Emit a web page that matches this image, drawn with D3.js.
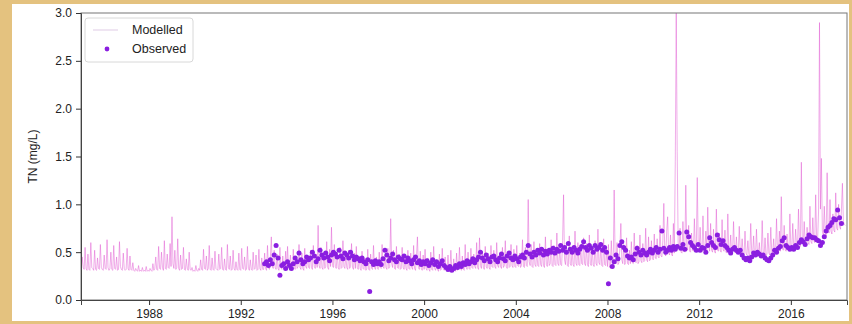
<!DOCTYPE html>
<html>
<head>
<meta charset="utf-8">
<script src="https://cdn.jsdelivr.net/npm/d3@7"></script>
<style>
  html, body { margin: 0; padding: 0; background: #e4c27f; }
  svg { display: block; }
  text { font-family: "Liberation Sans", Arial, sans-serif; }
</style>
</head>
<body>
<div id="chart"></div>
<script>
// modelled TN, 24 samples per year starting at each year
const modelledStart = 1985;
const modelled = [
  [0.33,0.32,0.45,0.34,0.32,0.55,0.33,0.31,0.48,0.32,0.31,0.60,0.34,0.33,0.31,0.52,0.32,0.31,0.44,0.33,0.32,0.58,0.34,0.32], // 1985
  [0.31,0.47,0.33,0.32,0.63,0.34,0.31,0.33,0.50,0.32,0.31,0.57,0.33,0.32,0.45,0.31,0.32,0.61,0.35,0.32,0.31,0.49,0.33,0.31],
  [0.32,0.54,0.33,0.31,0.46,0.32,0.31,0.39,0.31,0.30,0.33,0.31,0.30,0.36,0.30,0.31,0.30,0.34,0.30,0.31,0.30,0.35,0.30,0.31],
  [0.30,0.33,0.31,0.30,0.38,0.31,0.33,0.45,0.32,0.31,0.56,0.33,0.32,0.50,0.34,0.31,0.62,0.33,0.32,0.48,0.34,0.33,0.59,0.35],
  [0.87,0.38,0.33,0.52,0.32,0.34,0.64,0.33,0.31,0.47,0.32,0.33,0.55,0.32,0.31,0.43,0.33,0.31,0.50,0.32,0.31,0.34,0.30,0.31],
  [0.30,0.36,0.31,0.30,0.33,0.31,0.42,0.32,0.31,0.53,0.33,0.32,0.46,0.31,0.33,0.57,0.32,0.31,0.44,0.32,0.31,0.51,0.33,0.32], // 1990
  [0.31,0.48,0.32,0.33,0.55,0.32,0.31,0.43,0.32,0.31,0.58,0.34,0.32,0.46,0.31,0.32,0.52,0.33,0.31,0.40,0.32,0.31,0.49,0.32],
  [0.31,0.54,0.33,0.32,0.45,0.31,0.32,0.56,0.33,0.31,0.42,0.32,0.31,0.50,0.32,0.33,0.47,0.31,0.32,0.53,0.33,0.31,0.44,0.32],
  [0.32,0.49,0.33,0.31,0.57,0.34,0.32,0.45,0.66,0.35,0.33,0.52,0.34,0.32,0.48,0.33,0.31,0.55,0.34,0.32,0.46,0.33,0.32,0.51],
  [0.33,0.56,0.34,0.32,0.47,0.33,0.31,0.53,0.34,0.32,0.44,0.33,0.35,0.58,0.34,0.32,0.49,0.33,0.31,0.54,0.35,0.33,0.46,0.34],
  [0.33,0.52,0.34,0.32,0.57,0.35,0.33,0.48,0.34,0.78,0.36,0.33,0.55,0.34,0.32,0.50,0.33,0.35,0.61,0.34,0.32,0.53,0.35,0.76], // 1995
  [0.36,0.34,0.58,0.35,0.33,0.50,0.34,0.32,0.55,0.33,0.34,0.62,0.35,0.33,0.47,0.34,0.32,0.52,0.33,0.35,0.59,0.34,0.32,0.49],
  [0.33,0.56,0.34,0.32,0.46,0.33,0.31,0.51,0.33,0.32,0.44,0.31,0.33,0.53,0.32,0.31,0.48,0.33,0.32,0.57,0.34,0.32,0.45,0.33],
  [0.32,0.50,0.34,0.33,0.58,0.35,0.33,0.47,0.34,0.32,0.54,0.33,0.35,0.85,0.38,0.34,0.52,0.33,0.32,0.56,0.34,0.33,0.48,0.32],
  [0.33,0.55,0.34,0.32,0.46,0.33,0.31,0.52,0.33,0.32,0.49,0.34,0.32,0.57,0.33,0.31,0.45,0.66,0.34,0.32,0.51,0.33,0.31,0.47],
  [0.32,0.53,0.33,0.31,0.44,0.32,0.30,0.50,0.32,0.31,0.56,0.33,0.31,0.42,0.32,0.30,0.48,0.31,0.32,0.54,0.33,0.31,0.45,0.32], // 2000
  [0.31,0.47,0.32,0.30,0.52,0.33,0.31,0.43,0.32,0.30,0.49,0.31,0.32,0.55,0.33,0.31,0.46,0.32,0.31,0.58,0.34,0.32,0.50,0.33],
  [0.32,0.54,0.34,0.33,0.48,0.35,0.33,0.60,0.34,0.32,0.65,0.36,0.33,0.51,0.34,0.32,0.56,0.35,0.33,0.49,0.34,0.32,0.57,0.35],
  [0.34,0.52,0.35,0.33,0.60,0.36,0.34,0.48,0.35,0.33,0.55,0.34,0.36,0.62,0.35,0.33,0.50,0.34,0.35,0.58,0.36,0.34,0.53,0.35],
  [0.34,0.57,0.36,0.35,0.49,0.34,0.36,0.63,0.35,0.34,0.55,0.36,0.35,1.05,0.40,0.36,0.58,0.35,0.34,0.61,0.37,0.35,0.52,0.36],
  [0.35,0.59,0.37,0.35,0.54,0.36,0.34,0.66,0.37,0.35,0.51,0.36,0.38,0.63,0.36,0.35,0.57,0.37,0.36,0.70,0.38,0.36,0.55,0.37], // 2005
  [0.36,0.62,1.10,0.42,0.37,0.58,0.36,0.35,0.67,0.38,0.36,0.54,0.37,0.35,0.72,0.38,0.36,0.60,0.37,0.36,0.56,0.38,0.37,0.65],
  [0.38,0.36,0.59,0.37,0.35,0.68,0.38,0.36,0.55,0.37,0.35,0.62,0.38,0.36,0.74,0.39,0.37,0.57,0.36,0.35,0.64,0.37,0.36,0.53],
  [0.35,0.58,0.34,0.36,0.62,0.38,0.36,1.15,0.45,0.38,0.60,0.37,0.39,0.55,0.80,0.42,0.38,0.58,0.37,0.39,0.65,0.38,0.37,0.52],
  [0.38,0.61,0.39,0.38,0.70,0.40,0.39,0.57,0.38,0.40,0.68,0.41,0.39,0.59,0.40,0.41,0.75,0.42,0.40,0.66,0.41,0.42,0.62,0.43],
  [0.42,0.69,0.44,0.43,0.64,0.45,0.44,0.78,0.46,0.45,0.62,1.01,0.48,0.46,0.72,0.87,0.49,0.47,0.68,0.48,0.46,0.80,0.49,1.45], // 2010
  [3.00,1.55,0.60,0.52,0.75,0.50,0.49,0.82,0.51,0.50,1.20,0.56,0.52,0.78,0.51,0.50,0.70,0.52,0.51,0.85,0.53,0.52,1.28,0.58],
  [0.53,0.76,0.52,0.50,0.88,0.53,0.51,0.72,0.52,0.97,0.56,0.51,0.80,0.52,0.50,0.74,0.51,0.49,0.95,0.54,0.51,0.70,0.52,0.50],
  [0.84,0.53,0.51,0.73,0.50,0.49,0.90,0.52,0.50,0.68,0.49,0.51,0.82,0.52,0.49,0.66,0.48,0.50,0.77,0.51,0.49,0.64,0.48,0.47],
  [0.72,0.49,0.47,0.62,0.48,0.46,0.80,0.50,0.48,0.67,0.47,0.46,0.74,0.49,0.47,0.60,0.46,0.48,0.83,0.50,0.47,0.65,0.46,0.48],
  [0.70,0.49,0.47,0.76,0.50,0.48,0.64,0.49,0.51,0.85,0.52,0.50,0.72,0.51,1.08,0.56,0.52,0.78,0.53,0.51,0.69,0.54,0.52,0.90], // 2015
  [0.55,0.53,0.80,0.56,0.54,0.74,0.57,0.55,0.95,0.58,0.56,1.44,0.62,0.58,0.82,0.59,0.57,0.76,0.60,0.58,0.98,0.61,0.59,0.86],
  [0.62,0.60,1.10,0.64,0.62,0.92,2.90,0.95,1.48,0.72,0.68,0.98,0.70,0.67,1.33,0.74,0.70,1.05,0.72,0.69,0.90,0.73,0.71,1.12],
  [0.75,0.73,1.00,0.77,0.74,0.95,1.22,0.82,0.79,0.78] // 2018
];

// observed TN, monthly samples (null = no sample)
const observedStart = 1993;
const observed = [
  [0.38,0.40,0.36,0.42,0.38,0.47,0.57,0.44,0.26,0.36,0.38,0.33], // 1993
  [0.40,0.36,0.33,0.38,0.44,0.40,0.49,0.42,0.38,0.40,0.45,0.42],
  [0.44,0.50,0.46,0.40,0.43,0.52,0.47,0.44,0.49,0.45,0.41,0.47], // 1995
  [0.50,0.48,0.45,0.52,0.46,0.43,0.49,0.47,0.44,0.50,0.46,0.42],
  [0.45,0.43,0.41,0.44,0.40,0.38,0.42,0.09,0.40,0.37,0.41,0.38],
  [0.40,0.37,0.43,0.52,0.47,0.41,0.44,0.48,0.42,0.40,0.45,0.43],
  [0.42,0.46,0.40,0.44,0.41,0.38,0.42,0.45,0.39,0.41,0.37,0.40],
  [0.38,0.41,0.36,0.39,0.42,0.37,0.40,0.35,0.38,0.41,0.36,0.34], // 2000
  [0.32,0.35,0.31,0.33,0.36,0.34,0.38,0.35,0.39,0.37,0.41,0.38],
  [0.40,0.43,0.39,0.42,0.45,0.50,0.44,0.41,0.47,0.43,0.40,0.45],
  [0.46,0.42,0.40,0.44,0.48,0.43,0.41,0.46,0.49,0.44,0.42,0.46],
  [0.43,0.40,0.45,0.47,0.44,0.50,0.57,0.48,0.45,0.50,0.47,0.52],
  [0.49,0.53,0.47,0.51,0.48,0.52,0.50,0.54,0.49,0.53,0.51,0.57], // 2005
  [0.52,0.55,0.50,0.59,0.53,0.50,0.55,0.52,0.49,0.53,0.56,0.61],
  [0.55,0.52,0.57,0.54,0.50,0.57,0.53,0.55,0.58,0.52,0.55,0.50],
  [0.17,0.44,0.35,0.40,0.47,0.43,0.57,0.61,0.55,0.52,0.46,0.44],
  [0.45,0.42,0.48,0.54,0.50,0.47,0.52,0.49,0.47,0.50,0.53,0.49],
  [0.52,0.55,0.50,0.53,0.72,0.54,0.50,0.52,0.55,0.52,0.56,0.53], // 2010
  [0.56,0.70,0.54,0.58,0.53,0.71,0.66,0.60,0.57,0.55,0.52,0.58],
  [0.52,0.55,0.54,0.50,0.57,0.65,0.60,0.57,0.55,0.68,0.63,0.58],
  [0.62,0.57,0.55,0.52,0.49,0.53,0.55,0.52,0.50,0.52,0.47,0.44],
  [0.42,0.44,0.41,0.45,0.49,0.47,0.50,0.48,0.46,0.47,0.44,0.42],
  [0.41,0.44,0.47,0.52,0.50,0.54,0.56,0.62,0.65,0.57,0.55,0.53], // 2015
  [0.55,0.53,0.57,0.55,0.60,0.63,0.61,0.58,0.64,0.68,0.66,0.65],
  [0.65,0.63,0.62,0.57,0.60,0.66,0.72,0.76,0.78,0.81,0.85,0.84],
  [0.94,0.86,0.80] // 2018
];

const xTicks = [1988, 1992, 1996, 2000, 2004, 2008, 2012, 2016];
const yTicks = [0.0, 0.5, 1.0, 1.5, 2.0, 2.5, 3.0];
const yLabel = "TN (mg/L)";
const legendLabels = ["Modelled", "Observed"];

const W = 852, H = 324;
const margin = { top: 13, right: 5, bottom: 24, left: 81 };
const width = W - margin.left - margin.right;
const height = H - margin.top - margin.bottom;

const lineColor = "#e05ad2";
const dotColor = "#8a1ee0";

const modelledData = [];
modelled.forEach((row, i) => row.forEach((v, j) => {
  modelledData.push({ t: modelledStart + i + j / 24, v: v });
}));
const observedData = [];
observed.forEach((row, i) => row.forEach((v, j) => {
  if (v != null) observedData.push({ t: observedStart + i + (j + 0.5) / 12, v: v });
}));

const svg = d3.select("#chart").append("svg")
  .attr("width", W)
  .attr("height", H);

// white photo area over the tan background
svg.append("rect")
  .attr("x", 12).attr("y", 4)
  .attr("width", 837).attr("height", 317)
  .attr("fill", "#ffffff");

const g = svg.append("g")
  .attr("transform", `translate(${margin.left},${margin.top})`);

const x = d3.scaleLinear().domain([1985.03, 2018.45]).range([0, width]);
const y = d3.scaleLinear().domain([0, 3]).range([height, 0]);

g.append("clipPath").attr("id", "clip")
  .append("rect").attr("width", width).attr("height", height);

const line = d3.line()
  .x(d => x(d.t))
  .y(d => y(d.v));

g.append("path")
  .datum(modelledData)
  .attr("clip-path", "url(#clip)")
  .attr("fill", "none")
  .attr("stroke", lineColor)
  .attr("stroke-width", 0.7)
  .attr("stroke-opacity", 0.7)
  .attr("d", line);

g.append("g")
  .attr("clip-path", "url(#clip)")
  .selectAll("circle")
  .data(observedData)
  .enter()
  .append("circle")
  .attr("cx", d => x(d.t))
  .attr("cy", d => y(d.v))
  .attr("r", 2.5)
  .attr("fill", dotColor);

// frame
g.append("rect")
  .attr("width", width).attr("height", height)
  .attr("fill", "none")
  .attr("stroke", "#777")
  .attr("stroke-width", 1);

const xAxis = g.append("g")
  .attr("transform", `translate(0,${height})`)
  .call(d3.axisBottom(x).tickValues(xTicks).tickFormat(d3.format("d")).tickSize(5).tickPadding(4));

const yAxis = g.append("g")
  .call(d3.axisLeft(y).tickValues(yTicks).tickFormat(d3.format(".1f")).tickSize(5).tickPadding(4));

[xAxis, yAxis].forEach(a => {
  a.select(".domain").attr("stroke", "#444");
  a.selectAll(".tick line").attr("stroke", "#333");
  a.selectAll("text").attr("font-size", 12).attr("fill", "#222")
    .attr("font-family", "'Liberation Sans', Arial, sans-serif");
});

g.append("text")
  .attr("transform", `translate(-44,${height / 2}) rotate(-90)`)
  .attr("text-anchor", "middle")
  .attr("font-size", 12)
  .attr("fill", "#222")
  .text(yLabel);

// legend
const lg = g.append("g").attr("transform", "translate(4,5)");
lg.append("rect")
  .attr("width", 108).attr("height", 44)
  .attr("rx", 3)
  .attr("fill", "#fff").attr("fill-opacity", 0.8)
  .attr("stroke", "#d8d8d8");
lg.append("line")
  .attr("x1", 8).attr("x2", 33).attr("y1", 12).attr("y2", 12)
  .attr("stroke", "#eadcee").attr("stroke-width", 1.5);
lg.append("circle")
  .attr("cx", 22).attr("cy", 31).attr("r", 2.4)
  .attr("fill", dotColor);
lg.selectAll("text.lab")
  .data(legendLabels)
  .enter()
  .append("text")
  .attr("class", "lab")
  .attr("x", 47)
  .attr("y", (d, i) => 16 + i * 19)
  .attr("font-size", 12.5)
  .attr("fill", "#222")
  .text(d => d);
</script>
</body>
</html>
